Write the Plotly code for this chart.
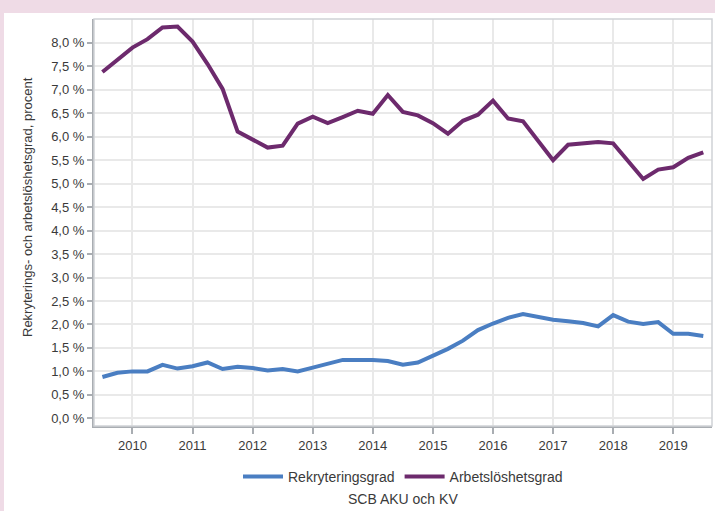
import plotly.graph_objects as go

# Quarterly observations, Q3 2009 .. Q3 2019
start_year = 2009.5
step = 0.25

rekrytering = [0.88, 0.97, 1.00, 1.00, 1.14, 1.06, 1.11, 1.19, 1.05, 1.10, 1.07, 1.02, 1.05, 1.00,
               1.08, 1.16, 1.245, 1.245, 1.245, 1.22, 1.14, 1.19, 1.335, 1.48, 1.655, 1.88, 2.02, 2.14,
               2.22, 2.16, 2.10, 2.07, 2.03, 1.96, 2.20, 2.06, 2.01, 2.05, 1.80, 1.80, 1.755]
arbetsloshet = [7.38, 7.64, 7.90, 8.08, 8.33, 8.35, 8.03, 7.55, 7.02, 6.11, 5.94, 5.77, 5.81, 6.28,
                6.43, 6.29, 6.42, 6.555, 6.49, 6.89, 6.53, 6.455, 6.29, 6.065, 6.34, 6.47, 6.77, 6.39,
                6.33, 5.90, 5.50, 5.83, 5.87, 5.89, 5.86, 5.48, 5.10, 5.30, 5.35, 5.55, 5.67]

x_vals = [start_year + step * i for i in range(len(rekrytering))]

year_ticks = list(range(2010, 2020))
year_labels = [str(y) for y in year_ticks]
y_ticks = [i * 0.5 for i in range(17)]
y_labels = [f"{v:.1f}".replace(".", ",") + " %" for v in y_ticks]

series_names = ["Rekryteringsgrad", "Arbetslöshetsgrad"]
series_colors = ["#4a7ec2", "#6d2a6d"]

FONT = "Liberation Sans, Arial, sans-serif"
TXT = "#3a3a3a"

fig = go.Figure()
for name, vals, col in zip(series_names, [rekrytering, arbetsloshet], series_colors):
    fig.add_trace(go.Scatter(x=x_vals, y=vals, mode="lines", name=name,
                             line=dict(color=col, width=4), hoverinfo="skip"))

# margins in px
L, R, T, B = 94, 3, 19, 85
W, H = 715, 511
pw = W - L - R
ph = H - T - B

def px_x(p):
    return (p - L) / pw

def px_y(p):
    return (H - B - p) / ph

shapes = [
    # white panel over pink page
    dict(type="rect", xref="paper", yref="paper", layer="below",
         x0=px_x(4), x1=px_x(W + 2), y0=px_y(H + 2), y1=px_y(13),
         fillcolor="white", line=dict(width=0)),
    # light frame on top/right
    dict(type="rect", xref="paper", yref="paper", layer="above",
         x0=0, x1=1, y0=0, y1=1, fillcolor="rgba(0,0,0,0)",
         line=dict(color="#cfd2d6", width=1.5)),
]

fig.update_layout(
    width=W, height=H,
    margin=dict(l=L, r=R, t=T, b=B),
    paper_bgcolor="#efdbe6",
    plot_bgcolor="white",
    font=dict(family=FONT, size=13, color=TXT),
    showlegend=True,
    legend=dict(orientation="h", x=0.5, xanchor="center", y=px_y(477), yanchor="middle",
                font=dict(family=FONT, size=14, color=TXT), bgcolor="rgba(0,0,0,0)",
                itemwidth=40),
    shapes=shapes,
    annotations=[
        dict(text="SCB AKU och KV", xref="paper", yref="paper", x=0.5, y=px_y(499),
             xanchor="center", yanchor="middle", showarrow=False,
             font=dict(family=FONT, size=14, color=TXT)),
        dict(text="Rekryterings- och arbetslöshetsgrad, procent", xref="paper", yref="paper",
             x=px_x(27), y=px_y(207), xanchor="center", yanchor="middle", textangle=-90,
             showarrow=False, font=dict(family=FONT, size=13, color=TXT)),
    ],
)

fig.update_xaxes(range=[2009.36, 2019.645], tickmode="array", tickvals=year_ticks, ticktext=year_labels,
                 showgrid=True, gridcolor="#e9e9e9", gridwidth=1.5, zeroline=False,
                 showline=True, linecolor="#a9adb2", linewidth=2,
                 ticks="outside", ticklen=6, tickcolor="#a9adb2", tickwidth=1.5,
                 tickfont=dict(family=FONT, size=13, color=TXT))
fig.update_yaxes(range=[-0.164, 8.51], tickmode="array", tickvals=y_ticks, ticktext=y_labels,
                 showgrid=True, gridcolor="#e9e9e9", gridwidth=1.5, zeroline=False,
                 showline=True, linecolor="#a9adb2", linewidth=2,
                 ticks="outside", ticklen=5, tickcolor="#a9adb2", tickwidth=1.5,
                 tickfont=dict(family=FONT, size=13, color=TXT))

fig.write_html("out.html", config={"displayModeBar": False},
               post_script="document.body.style.margin='0';document.body.style.overflow='hidden';")
